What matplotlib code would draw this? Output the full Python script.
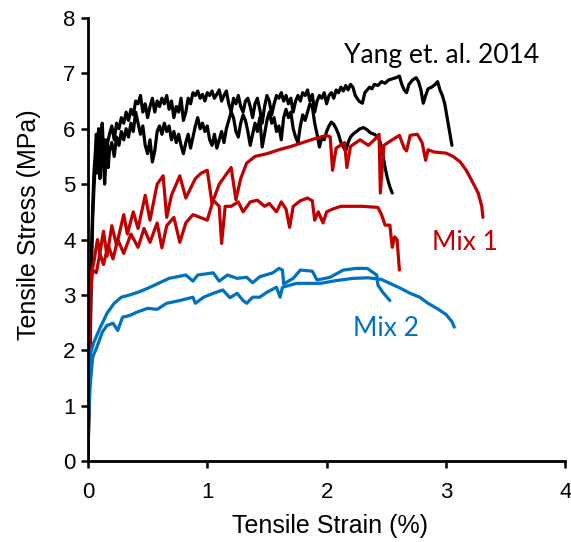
import matplotlib
matplotlib.use("Agg")
import matplotlib.pyplot as plt

# Tensile stress-strain curves (strain in %, stress in MPa)
yang_a_strain = [0, 0.01, 0.02, 0.03, 0.04, 0.05, 0.06, 0.07, 0.08, 0.09, 0.10, 0.11, 0.12, 0.13,
                 0.14, 0.15, 0.16, 0.18, 0.20, 0.22, 0.24, 0.26, 0.28, 0.30, 0.32, 0.34, 0.36,
                 0.38, 0.40, 0.42, 0.44, 0.46, 0.48, 0.50, 0.52, 0.54, 0.56, 0.58, 0.60, 0.62,
                 0.64, 0.66, 0.68, 0.70, 0.72, 0.74, 0.76, 0.78, 0.80, 0.82, 0.84, 0.86, 0.88,
                 0.90, 0.92, 0.94, 0.96, 0.98, 1.00, 1.02, 1.04, 1.06, 1.08, 1.10, 1.12, 1.14,
                 1.16, 1.18, 1.20, 1.22, 1.24, 1.26, 1.28, 1.30, 1.32, 1.34, 1.36, 1.38, 1.40,
                 1.42, 1.44, 1.46, 1.48, 1.50, 1.52, 1.54, 1.56, 1.58, 1.60, 1.62, 1.64, 1.66,
                 1.68, 1.70, 1.72, 1.74, 1.76, 1.78, 1.80, 1.82, 1.84, 1.86, 1.88, 1.90, 1.92,
                 1.94, 1.96, 1.98, 2.00, 2.02, 2.04, 2.06, 2.08, 2.10, 2.12, 2.14, 2.16, 2.18,
                 2.20, 2.22, 2.24, 2.27, 2.30, 2.32, 2.34, 2.36, 2.38, 2.40, 2.43, 2.46, 2.49,
                 2.52, 2.55, 2.58, 2.61, 2.63, 2.65, 2.67, 2.69, 2.72, 2.75, 2.77, 2.79, 2.81,
                 2.83, 2.85, 2.88, 2.91, 2.93, 2.95, 2.97, 2.99, 3.01, 3.03, 3.05]
yang_a_stress = [0, 1.2, 2.6, 3.8, 4.6, 5.2, 5.5, 5.9, 5.7, 6.0, 5.5, 5.9, 6.1, 5.6,
                 5.8, 5.3, 5.7, 5.9, 6.05, 5.8, 6.1, 6.0, 6.2, 6.1, 6.3, 6.15, 6.35,
                 6.25, 6.5, 6.45, 6.6, 6.3, 6.45, 6.2, 6.4, 6.55, 6.3, 6.5, 6.4, 6.55,
                 6.45, 6.6, 6.35, 6.5, 6.2, 6.4, 6.3, 6.55, 6.15, 6.3, 6.55, 6.45, 6.65,
                 6.6, 6.68, 6.55, 6.62, 6.5, 6.65, 6.6, 6.68, 6.55, 6.62, 6.7, 6.5, 6.6,
                 6.68, 6.45, 6.3, 6.55, 6.45, 6.6, 6.4, 6.3, 6.5, 6.55, 6.4, 6.2, 6.45,
                 6.55, 6.35, 6.1, 6.4, 6.6, 6.5, 6.25, 6.45, 6.6, 6.55, 6.65, 6.5, 6.6,
                 6.45, 6.55, 6.3, 6.5, 6.6, 6.5, 6.65, 6.6, 6.7, 6.5, 6.62, 6.3, 6.5,
                 6.6, 6.55, 6.65, 6.45, 6.6, 6.65, 6.55, 6.7, 6.65, 6.75, 6.68, 6.78, 6.7,
                 6.8, 6.75, 6.6, 6.5, 6.46, 6.65, 6.7, 6.75, 6.72, 6.8, 6.78, 6.85, 6.82,
                 6.88, 6.9, 6.92, 6.95, 6.8, 6.7, 6.65, 6.8, 6.88, 6.92, 6.85, 6.7, 6.46,
                 6.6, 6.72, 6.75, 6.8, 6.85, 6.7, 6.6, 6.45, 6.2, 5.95, 5.7]

yang_b_strain = [0, 0.01, 0.02, 0.03, 0.04, 0.05, 0.06, 0.07, 0.08, 0.09, 0.10, 0.11, 0.12, 0.13,
                 0.14, 0.15, 0.16, 0.17, 0.18, 0.20, 0.22, 0.24, 0.26, 0.28, 0.30, 0.32, 0.34,
                 0.36, 0.38, 0.40, 0.42, 0.44, 0.46, 0.48, 0.50, 0.52, 0.54, 0.56, 0.58, 0.60,
                 0.62, 0.64, 0.66, 0.68, 0.70, 0.72, 0.74, 0.76, 0.78, 0.80, 0.82, 0.84, 0.86,
                 0.88, 0.90, 0.92, 0.94, 0.96, 0.98, 1.00, 1.02, 1.04, 1.06, 1.08, 1.10, 1.12,
                 1.14, 1.16, 1.18, 1.20, 1.22, 1.24, 1.26, 1.28, 1.30, 1.32, 1.34, 1.36, 1.38,
                 1.40, 1.42, 1.44, 1.46, 1.48, 1.50, 1.52, 1.54, 1.56, 1.58, 1.60, 1.62, 1.64,
                 1.66, 1.68, 1.70, 1.72, 1.74, 1.76, 1.78, 1.80, 1.82, 1.84, 1.86, 1.88, 1.90,
                 1.92, 1.94, 1.96, 1.98, 2.00, 2.02, 2.04, 2.06, 2.08, 2.10, 2.12, 2.14, 2.16,
                 2.18, 2.20, 2.22, 2.25, 2.28, 2.31, 2.34, 2.37, 2.40, 2.43, 2.45, 2.47, 2.49,
                 2.51, 2.53, 2.55]
yang_b_stress = [0, 1.0, 2.2, 3.5, 4.4, 4.9, 5.3, 5.6, 5.2, 5.7, 5.1, 5.5, 5.9, 5.4,
                 5.0, 5.4, 5.8, 5.3, 5.6, 5.75, 5.5, 5.85, 5.7, 5.95, 5.8, 6.0, 5.85,
                 6.1, 5.95, 6.3, 6.1, 5.9, 6.05, 5.7, 5.55, 5.8, 5.4, 5.6, 5.95, 6.05,
                 5.9, 6.1, 5.95, 6.05, 5.8, 5.95, 5.75, 5.9, 5.7, 5.55, 5.75, 5.9, 5.65,
                 5.85, 6.05, 6.2, 6.0, 6.1, 5.95, 6.05, 5.8, 5.7, 5.9, 5.65, 5.8, 5.95,
                 5.75, 6.0, 6.15, 6.3, 6.2, 5.95, 5.85, 6.1, 6.25, 6.15, 5.95, 5.7, 5.9,
                 6.1, 5.95, 6.2, 5.67, 5.9, 6.15, 6.3, 6.1, 6.2, 5.95, 6.05, 5.8, 6.2,
                 6.35, 6.2, 6.3, 6.0, 5.85, 5.75, 6.05, 6.25, 6.15, 6.3, 6.45, 6.4, 6.1,
                 5.9, 5.67, 5.85, 5.8, 5.95, 6.05, 6.12, 6.08, 6.0, 5.9, 5.75, 5.67, 5.6,
                 5.75, 5.85, 5.9, 5.95, 6.0, 6.02, 5.98, 5.92, 5.9, 5.85, 5.75, 5.55, 5.3,
                 5.1, 4.95, 4.84]

mix1_a_strain = [0, 0.005, 0.015, 0.03, 0.05, 0.08, 0.10, 0.13, 0.16, 0.20, 0.24, 0.30, 0.33,
                 0.38, 0.42, 0.48, 0.52, 0.58, 0.63, 0.66, 0.70, 0.77, 0.82, 0.90, 0.95, 1.00,
                 1.04, 1.10, 1.20, 1.24, 1.28, 1.33, 1.40, 1.50, 1.60, 1.70, 1.80, 1.90, 2.00,
                 2.03, 2.05, 2.08, 2.15, 2.17, 2.20, 2.28, 2.35, 2.40, 2.44, 2.45, 2.48, 2.55,
                 2.61, 2.65, 2.67, 2.70, 2.76, 2.80, 2.83, 2.85, 2.90, 3.00, 3.06, 3.12, 3.17,
                 3.22, 3.27, 3.30, 3.31]
mix1_a_stress = [0, 1.5, 2.8, 3.4, 3.6, 4.0, 3.75, 4.15, 3.7, 4.25, 3.9, 4.45, 4.1,
                 4.5, 4.2, 4.8, 4.35, 5.0, 5.15, 4.4, 4.8, 5.15, 4.75, 5.1, 5.2, 5.25,
                 4.65, 5.0, 5.3, 4.72, 5.1, 5.38, 5.5, 5.55, 5.62, 5.68, 5.75, 5.82, 5.88,
                 5.85, 5.25, 5.65, 5.75, 5.3, 5.68, 5.8, 5.7, 5.8, 5.9, 4.84, 5.7, 5.8,
                 5.88, 5.65, 5.6, 5.88, 5.9, 5.75, 5.43, 5.62, 5.58, 5.56, 5.5, 5.4, 5.25,
                 5.05, 4.84, 4.6, 4.4]

mix1_b_strain = [0, 0.005, 0.02, 0.04, 0.07, 0.10, 0.13, 0.17, 0.21, 0.25, 0.30, 0.36, 0.42,
                 0.47, 0.52, 0.58, 0.62, 0.66, 0.72, 0.77, 0.82, 0.88, 0.94, 1.00, 1.05, 1.10,
                 1.12, 1.15, 1.20, 1.26, 1.30, 1.36, 1.42, 1.48, 1.52, 1.58, 1.62, 1.66, 1.69,
                 1.72, 1.78, 1.84, 1.88, 1.90, 1.93, 1.97, 2.00, 2.05, 2.12, 2.20, 2.30, 2.43,
                 2.46, 2.49, 2.53, 2.55, 2.57, 2.59, 2.61]
mix1_b_stress = [0, 1.4, 3.0, 3.45, 3.4, 3.75, 3.55, 3.9, 3.65, 4.0, 3.75, 4.1, 3.86,
                 4.2, 3.95, 4.3, 3.85, 4.25, 4.4, 3.95, 4.3, 4.45, 4.4, 4.35, 4.71, 4.6,
                 3.93, 4.6, 4.6, 4.68, 4.5, 4.68, 4.71, 4.6, 4.65, 4.5, 4.68, 4.55, 4.22,
                 4.6, 4.7, 4.75, 4.7, 4.35, 4.5, 4.3, 4.5, 4.55, 4.6, 4.6, 4.6, 4.58,
                 4.45, 4.26, 4.26, 3.86, 4.05, 4.0, 3.45]

mix2_a_strain = [0, 0.005, 0.015, 0.05, 0.10, 0.16, 0.22, 0.28, 0.35, 0.42, 0.50, 0.58, 0.68,
                 0.82, 0.88, 0.92, 1.05, 1.10, 1.17, 1.25, 1.33, 1.38, 1.44, 1.55, 1.60, 1.63,
                 1.64, 1.72, 1.78, 1.88, 1.92, 2.03, 2.14, 2.25, 2.34, 2.42, 2.43, 2.47, 2.53]
mix2_a_stress = [0, 1.0, 1.9, 2.15, 2.4, 2.67, 2.85, 2.96, 3.0, 3.05, 3.12, 3.2, 3.3,
                 3.36, 3.25, 3.36, 3.4, 3.25, 3.36, 3.3, 3.32, 3.22, 3.33, 3.4, 3.48, 3.45,
                 3.2, 3.3, 3.45, 3.43, 3.27, 3.32, 3.45, 3.48, 3.48, 3.36, 3.18, 3.05, 2.9]

mix2_b_strain = [0, 0.005, 0.02, 0.04, 0.075, 0.12, 0.16, 0.21, 0.25, 0.29, 0.35, 0.41, 0.50,
                 0.58, 0.66, 0.77, 0.88, 0.90, 0.97, 1.05, 1.13, 1.19, 1.25, 1.30, 1.33, 1.38,
                 1.44, 1.50, 1.58, 1.61, 1.63, 1.75, 1.85, 1.95, 2.08, 2.22, 2.35, 2.46, 2.53,
                 2.62, 2.70, 2.78, 2.85, 2.93, 3.00, 3.05, 3.07]
mix2_b_stress = [0, 0.8, 1.4, 1.88, 2.06, 2.33, 2.45, 2.49, 2.36, 2.6, 2.63, 2.69, 2.76,
                 2.74, 2.85, 2.9, 2.96, 2.85, 2.96, 3.03, 3.09, 2.95, 3.03, 2.9, 2.85, 2.96,
                 2.96, 3.05, 3.14, 2.96, 3.14, 3.21, 3.21, 3.21, 3.26, 3.3, 3.31, 3.28, 3.21,
                 3.12, 3.03, 2.96, 2.85, 2.75, 2.65, 2.52, 2.42]

x_ticks = [0, 1, 2, 3, 4]
y_ticks = [0, 1, 2, 3, 4, 5, 6, 7, 8]

BLACK = "#000000"
RED = "#C00000"
BLUE = "#0070C0"

fig = plt.figure(figsize=(5.71, 5.42), dpi=100)
ax = fig.add_axes([0.154, 0.149, 0.836, 0.818])

lw = 2.3
curves = [
    (yang_a_strain, yang_a_stress, BLACK),
    (yang_b_strain, yang_b_stress, BLACK),
    (mix1_a_strain, mix1_a_stress, RED),
    (mix1_b_strain, mix1_b_stress, RED),
    (mix2_a_strain, mix2_a_stress, BLUE),
    (mix2_b_strain, mix2_b_stress, BLUE),
]
for xs, ys, col in curves:
    ax.plot(xs, ys, color=col, lw=lw, solid_joinstyle="round", solid_capstyle="round")

ax.set_xlim(0, 4)
ax.set_ylim(0, 8)
ax.set_xticks(x_ticks)
ax.set_yticks(y_ticks)

for side in ("top", "right"):
    ax.spines[side].set_visible(False)
for side in ("left", "bottom"):
    ax.spines[side].set_linewidth(2.0)
ax.tick_params(direction="out", length=5, width=1.8, labelsize=16,
               colors="black", pad=4)
ax.tick_params(axis="x", pad=10)
for lab in ax.get_xticklabels() + ax.get_yticklabels():
    lab.set_fontfamily("Liberation Sans")

ax.set_xlabel("Tensile Strain (%)", fontsize=18, family="Liberation Sans")
ax.set_ylabel("Tensile Stress (MPa)", fontsize=18, family="Liberation Sans")
ax.xaxis.set_label_coords(0.507, -0.118)
ax.yaxis.set_label_coords(-0.099, 0.533)

ax.text(2.96, 7.33, "Yang et. al. 2014", color=BLACK, fontsize=19, family="Lato",
        ha="center", va="center")
ax.text(3.16, 3.95, "Mix 1", color=RED, fontsize=19, family="Lato",
        ha="center", va="center")
ax.text(2.5, 2.4, "Mix 2", color=BLUE, fontsize=19, family="Lato",
        ha="center", va="center")

fig.savefig("out.png", dpi=100)
